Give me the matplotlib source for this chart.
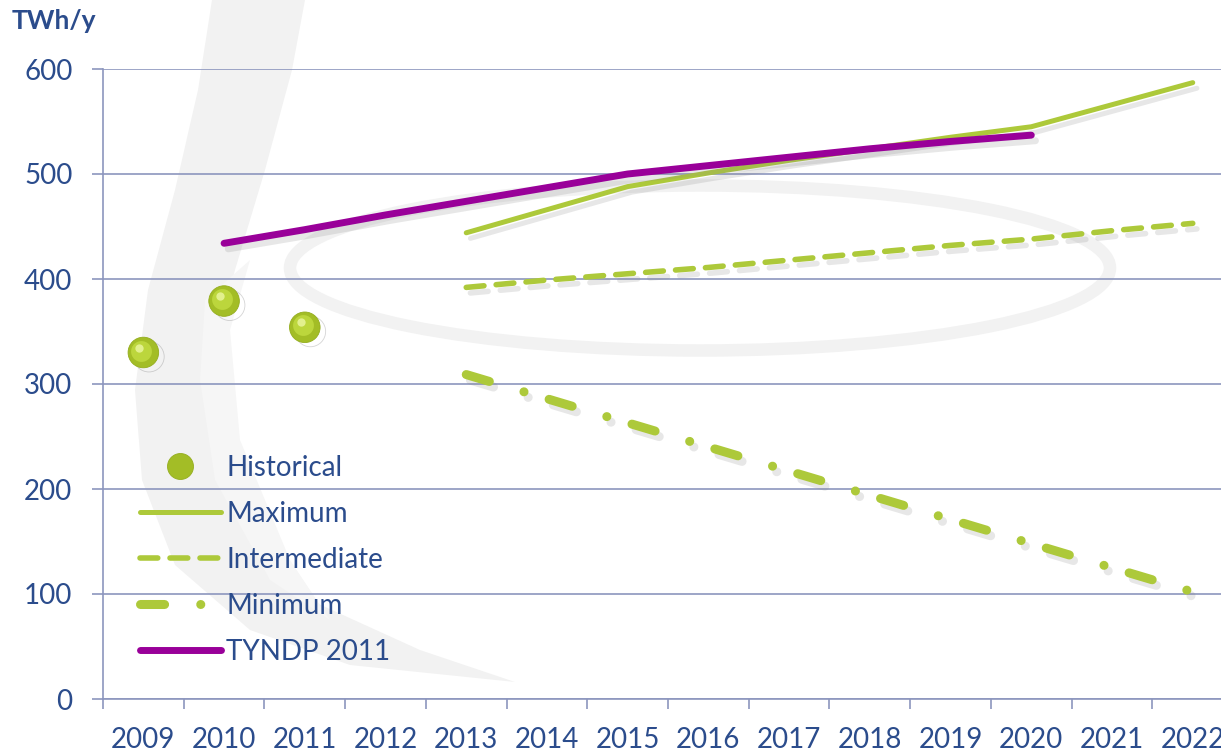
import matplotlib
matplotlib.use("Agg")
import matplotlib.pyplot as plt
import matplotlib.patheffects as pe
import matplotlib.transforms as mtrans
from matplotlib.patches import Ellipse, Polygon
import numpy as np

plt.rcParams['font.family'] = ['Lato', 'DejaVu Sans']

years = ['2009', '2010', '2011', '2012', '2013', '2014', '2015', '2016',
         '2017', '2018', '2019', '2020', '2021', '2022']

hist_years = ['2009', '2010', '2011']
historical = [330, 379, 354]

scen_years = ['2013', '2014', '2015', '2016', '2017', '2018', '2019', '2020', '2021', '2022']
maximum = [444, 466, 488, 501, 513, 524, 535, 545, 566, 587]
intermediate = [392, 399, 405, 411, 418, 425, 432, 438, 446, 453]
minimum = [309, 286, 263, 240, 217, 194, 171, 148, 125, 102]

tyndp_years = ['2010', '2011', '2012', '2013', '2014', '2015', '2016', '2017', '2018', '2019', '2020']
tyndp = [434, 447, 461, 474, 487, 500, 508, 516, 524, 531, 537]

yticks = [0, 100, 200, 300, 400, 500, 600]

TEXT = '#2b4c8c'
GRID = '#8c96be'
LIME = '#adc93a'
PURPLE = '#990099'
BG = '#f2f2f2'

idx = {y: i for i, y in enumerate(years)}
hx = [idx[y] for y in hist_years]
sx = [idx[y] for y in scen_years]
tx = [idx[y] for y in tyndp_years]

W, H = 1221, 751
fig = plt.figure(figsize=(W / 100, H / 100), dpi=100)
ax = fig.add_axes([103 / W, 1 - 699 / H, 1 - 103 / W, (699 - 69) / H])
ax.set_facecolor('none')
ax.set_xlim(-0.5, 13.35)
ax.set_ylim(0, 600)


def fp(pts):
    return [(x / W, 1 - y / H) for x, y in pts]


# faint background logo swoosh (decoration)
swoosh = Polygon(fp([(212, 0), (198, 90), (175, 190), (148, 290), (135, 390), (142, 480),
                     (175, 565), (250, 630), (350, 665), (515, 682), (420, 650),
                     (310, 600), (245, 530), (212, 450), (212, 360), (235, 270),
                     (265, 170), (292, 70), (305, 0)]),
                 closed=True, transform=fig.transFigure, color=BG, lw=0, zorder=-2)
fig.patches.append(swoosh)
swoosh2 = Polygon(fp([(205, 300), (250, 260), (230, 330), (240, 440), (290, 560), (330, 620),
                      (270, 580), (215, 480), (200, 380)]),
                  closed=True, transform=fig.transFigure, color='#f6f6f6', lw=0, zorder=-2)
fig.patches.append(swoosh2)
ring = Ellipse(((700) / W, 1 - 268 / H), 820 / W, 165 / H, fill=False, ec=BG, lw=9,
               transform=fig.transFigure, zorder=-2)
fig.patches.append(ring)

shadow = [pe.SimpleLineShadow(offset=(3, -4), shadow_color='#888888', alpha=0.2), pe.Normal()]

l_min, = ax.plot(sx, minimum, color=LIME, lw=6.5, solid_capstyle='round', dash_capstyle='round',
                 linestyle=(0, (2.67, 4.0, 0.01, 2.9)), label='Minimum', zorder=3,
                 path_effects=shadow)
l_int, = ax.plot(sx, intermediate, color=LIME, lw=4.0, dash_capstyle='round',
                 linestyle=(0, (3.2, 2.2)), label='Intermediate', zorder=3, path_effects=shadow)
l_max, = ax.plot(sx, maximum, color=LIME, lw=3.6, solid_capstyle='round', label='Maximum',
                 zorder=3, path_effects=shadow)
l_ty, = ax.plot(tx, tyndp, color=PURPLE, lw=5, solid_capstyle='round', label='TYNDP 2011',
                zorder=4, path_effects=shadow)

ball_shadow = [pe.SimpleLineShadow(offset=(4, -3), shadow_color='#555555', alpha=0.25), pe.Normal()]
l_hist, = ax.plot(hx, historical, linestyle='none', marker='o', ms=22, mfc='#a3bd26',
                  mec='#94ad1e', mew=0.6, label='Historical', zorder=5, path_effects=ball_shadow)
hl = mtrans.offset_copy(ax.transData, fig=fig, x=-2, y=2, units='dots')
ax.plot(hx, historical, linestyle='none', marker='o', ms=15, mfc='#bcd63c', mec='none',
        zorder=6, transform=hl)
hl2 = mtrans.offset_copy(ax.transData, fig=fig, x=-4, y=5, units='dots')
ax.plot(hx, historical, linestyle='none', marker='o', ms=6, mfc='#e2f08e', mec='none',
        zorder=7, transform=hl2)

# axes styling
for s in ['top', 'right']:
    ax.spines[s].set_visible(False)
ax.spines['left'].set_color(GRID)
ax.spines['bottom'].set_color(GRID)
ax.spines['left'].set_linewidth(1.2)
ax.spines['bottom'].set_linewidth(1.2)
ax.set_yticks(yticks)
ax.set_yticklabels([str(v) for v in yticks])
ax.yaxis.grid(True, color=GRID, lw=1.2)
ax.set_axisbelow(True)
ax.tick_params(axis='y', length=8, width=1.2, color=GRID, labelcolor=TEXT,
               labelsize=20, pad=14)

ax.set_xticks(np.arange(-0.5, 13.5, 1.0))
ax.set_xticklabels([])
ax.set_xticks(np.arange(len(years)), minor=True)
ax.set_xticklabels(years, minor=True)
ax.tick_params(axis='x', which='major', length=7, width=1.2, color=GRID, direction='out')
ax.tick_params(axis='x', which='minor', length=0, labelcolor=TEXT, labelsize=20, pad=20)

fig.text(12 / W, 1 - 21 / H, 'TWh/y', fontsize=19, fontweight='bold', color=TEXT,
         ha='left', va='center')

handles = [l_hist, l_max, l_int, l_min, l_ty]
labels = [h.get_label() for h in handles]
leg = fig.legend(handles, labels, loc='upper left',
                 bbox_to_anchor=(140 / W, 1 - 455 / H), frameon=False,
                 fontsize=20, labelcolor=TEXT, handlelength=2.9, handletextpad=0.2,
                 labelspacing=0.72, borderpad=0, borderaxespad=0, markerscale=0.85)
for ln in leg.get_lines():
    ln.set_path_effects([])

fig.savefig('out.png', dpi=100)
